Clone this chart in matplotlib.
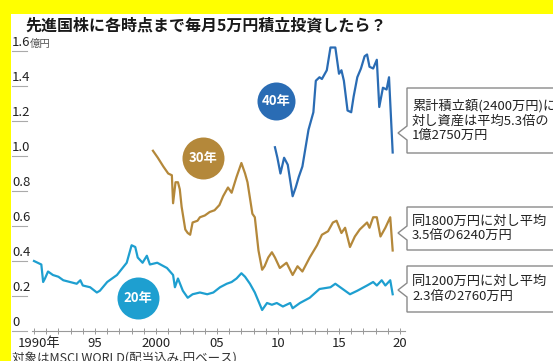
import numpy as np
import matplotlib.pyplot as plt
import matplotlib.transforms as mtransforms
from matplotlib.patches import Rectangle, Polygon

plt.rcParams['font.family'] = ['Noto Sans CJK JP', 'DejaVu Sans']

# 20年積立 (1990年〜)
yr20 = [1990.0, 1990.3, 1990.6, 1990.75, 1990.9, 1991.15, 1991.55, 1992.0, 1992.4, 1992.95,
        1993.5, 1993.8, 1994.0, 1994.6, 1995.15, 1995.4, 1996.0, 1996.8, 1997.6, 1998.0,
        1998.3, 1998.5, 1998.9, 1999.25, 1999.5, 2000.1, 2000.9, 2001.4, 2001.55, 2001.8,
        2002.2, 2002.6, 2003.0, 2003.6, 2004.2, 2004.7, 2005.25, 2005.8, 2006.2, 2006.6,
        2007.0, 2007.3, 2007.7, 2008.1, 2008.7, 2009.1, 2009.5, 2009.9, 2010.4, 2011.0,
        2011.2, 2011.8, 2012.6, 2013.4, 2014.3, 2014.7, 2015.1, 2015.9, 2016.5, 2017.3,
        2017.8, 2018.1, 2018.5, 2018.8, 2019.2, 2019.4]
val20 = [0.40, 0.39, 0.38, 0.28, 0.30, 0.34, 0.32, 0.31, 0.29, 0.28,
         0.27, 0.29, 0.26, 0.25, 0.22, 0.23, 0.28, 0.32, 0.39, 0.49,
         0.48, 0.42, 0.39, 0.43, 0.38, 0.39, 0.36, 0.32, 0.25, 0.30,
         0.23, 0.19, 0.21, 0.22, 0.21, 0.22, 0.25, 0.27, 0.28, 0.30,
         0.33, 0.31, 0.27, 0.22, 0.12, 0.16, 0.15, 0.16, 0.14, 0.16,
         0.13, 0.16, 0.19, 0.24, 0.25, 0.27, 0.25, 0.21, 0.23, 0.26,
         0.28, 0.26, 0.29, 0.26, 0.29, 0.21]

# 30年積立 (2000年〜)
yr30 = [1999.75, 2000.15, 2000.6, 2001.0, 2001.3, 2001.4, 2001.6, 2001.8, 2001.95, 2002.1,
        2002.4, 2002.6, 2002.8, 2003.0, 2003.4, 2003.6, 2004.0, 2004.4, 2004.8, 2005.2,
        2005.5, 2005.9, 2006.2, 2006.6, 2007.0, 2007.3, 2007.5, 2007.9, 2008.1, 2008.4,
        2008.7, 2008.9, 2009.2, 2009.5, 2009.75, 2010.15, 2010.7, 2011.2, 2011.6, 2012.0,
        2012.6, 2013.2, 2013.6, 2014.1, 2014.5, 2014.8, 2015.2, 2015.5, 2015.9, 2016.3,
        2016.7, 2017.3, 2017.5, 2017.8, 2018.1, 2018.4, 2018.8, 2019.2, 2019.4]
val30 = [1.03, 0.99, 0.94, 0.90, 0.89, 0.73, 0.85, 0.85, 0.81, 0.71,
         0.58, 0.56, 0.55, 0.62, 0.63, 0.65, 0.66, 0.68, 0.69, 0.72,
         0.77, 0.82, 0.79, 0.88, 0.96, 0.90, 0.85, 0.67, 0.65, 0.46,
         0.35, 0.37, 0.42, 0.45, 0.42, 0.36, 0.39, 0.32, 0.37, 0.34,
         0.42, 0.49, 0.55, 0.57, 0.62, 0.63, 0.56, 0.59, 0.48, 0.54,
         0.58, 0.62, 0.59, 0.65, 0.65, 0.54, 0.59, 0.65, 0.46]

# 40年積立 (2010年〜)
yr40 = [2009.75, 2009.95, 2010.2, 2010.5, 2010.8, 2011.2, 2011.45, 2011.7, 2012.0, 2012.5,
        2012.9, 2013.1, 2013.4, 2013.6, 2014.0, 2014.3, 2014.7, 2015.0, 2015.2, 2015.4,
        2015.7, 2016.0, 2016.2, 2016.5, 2016.8, 2017.1, 2017.3, 2017.5, 2017.8, 2018.1,
        2018.3, 2018.6, 2018.9, 2019.1, 2019.4]
val40 = [1.05, 0.99, 0.90, 0.99, 0.95, 0.77, 0.82, 0.88, 0.94, 1.15,
         1.25, 1.43, 1.45, 1.44, 1.49, 1.62, 1.62, 1.47, 1.49, 1.43,
         1.26, 1.25, 1.34, 1.45, 1.50, 1.57, 1.58, 1.51, 1.50, 1.55,
         1.28, 1.39, 1.38, 1.45, 1.02]

c20, c30, c40 = '#1e9fd0', '#b4883a', '#2a6cb4'

ytick_vals = [0, 0.2, 0.4, 0.6, 0.8, 1.0, 1.2, 1.4, 1.6]
ytick_text = ['0', '0.2', '0.4', '0.6', '0.8', '1.0', '1.2', '1.4', '1.6']
xtick_years = [1990, 1995, 2000, 2005, 2010, 2015, 2020]
xtick_text = ['1990年', '95', '2000', '05', '10', '15', '20']

notes = [
    ('累計積立額(2400万円)に\n対し資産は平均5.3倍の\n1億2750万円', 88, 153, 133),
    ('同1800万円に対し平均\n3.5倍の6240万円', 207, 250, 233),
    ('同1200万円に対し平均\n2.3倍の2760万円', 266, 312, 290),
]

W, H = 553, 361
fig = plt.figure(figsize=(W / 100, H / 100), dpi=100)
fig.patch.set_facecolor('white')


def fx(px):
    return px / W


def fy(py):
    return 1 - py / H


# plot area: 1990 at x=34px, 12.2px per year; 0 at y=331px, 1.6 at y=51px
x0, x1 = 1989.8, 2020.4
ax = fig.add_axes([fx(34 - 0.2 * 12.2), fy(331), (x1 - x0) * 12.2 / W, 280 / H])
ax.set_xlim(x0, x1)
ax.set_ylim(0, 1.6)
ax.patch.set_alpha(0)

for s in ['left', 'right', 'top']:
    ax.spines[s].set_visible(False)
ax.spines['bottom'].set_color('#999999')
ax.spines['bottom'].set_linewidth(0.8)
ax.set_yticks([])
ax.set_xticks(np.arange(1990, 2021), minor=True)
ax.set_xticks(xtick_years, xtick_text)
ax.tick_params(axis='x', which='both', direction='inout', length=5, width=0.7,
               color='#999999', labelsize=9.5, labelcolor='#222222', pad=2)
for lbl in ax.get_xticklabels():
    lbl.set_family(['Liberation Sans Narrow', 'Noto Sans CJK JP'])
first = ax.get_xticklabels()[0]
first.set_transform(first.get_transform() + mtransforms.ScaledTranslation(5 / 100, 0, fig.dpi_scale_trans))

ax.plot(yr20, val20, color=c20, lw=1.6, clip_on=False, solid_joinstyle='round')
ax.plot(yr30, val30, color=c30, lw=1.6, clip_on=False, solid_joinstyle='round')
ax.plot(yr40, val40, color=c40, lw=1.6, clip_on=False, solid_joinstyle='round')

# y labels with short underline
tr = mtransforms.blended_transform_factory(fig.transFigure, ax.transData)
for v, t in zip(ytick_vals, ytick_text):
    ax.plot([fx(12), fx(27)], [v, v], color='#aaaaaa', lw=0.8, transform=tr, clip_on=False)
    ax.text(fx(12), v + 0.012, t, transform=tr, ha='left', va='bottom', fontsize=9.5,
            color='#222222', family=['Liberation Sans Narrow', 'Noto Sans CJK JP'])
ax.text(fx(30), 1.6 + 0.012, '億円', transform=tr, ha='left', va='bottom',
        fontsize=7.5, color='#555555')

# year badges
badges = [('40年', 2009.84, 1.314, c40, 38), ('30年', 2003.85, 0.989, c30, 42),
          ('20年', 1998.5, 0.189, c20, 42)]
for t, bx, by, c, d in badges:
    ax.scatter([bx], [by], s=(d * 0.72) ** 2, color=c, zorder=5, clip_on=False, linewidths=0)
    ax.text(bx, by, t, ha='center', va='center', color='white', fontsize=9.5,
            fontweight='bold', zorder=6)

# callout boxes
for text, top, bot, tip in notes:
    pts = [(407, top), (570, top), (570, bot), (407, bot), (407, tip + 7), (398, tip), (407, tip - 7)]
    fig.add_artist(Polygon([(fx(px), fy(py)) for px, py in pts], closed=True,
                           facecolor='white', edgecolor='#8a8a8a', lw=1.0))
    n = text.count('\n') + 1
    mid = (top + bot) / 2
    fig.text(fx(412), fy(mid), text, ha='left', va='center', fontsize=9.5,
             color='#222222', linespacing=1.15)

fig.text(fx(25), fy(25), '先進国株に各時点まで毎月5万円積立投資したら？', ha='left', va='center',
         fontsize=11.5, fontweight='bold', color='#1a1a1a')
fig.text(fx(12), fy(359), '対象はMSCI WORLD(配当込み,円ベース)', ha='left', va='center',
         fontsize=9, color='#333333')

# yellow frame
fig.add_artist(Rectangle((0, fy(14)), 1, 14 / H, transform=fig.transFigure,
                         facecolor='#ffff00', edgecolor='none', zorder=10))
fig.add_artist(Rectangle((0, 0), fx(11), 1, transform=fig.transFigure,
                         facecolor='#ffff00', edgecolor='none', zorder=10))

fig.savefig('out.png', dpi=100)
